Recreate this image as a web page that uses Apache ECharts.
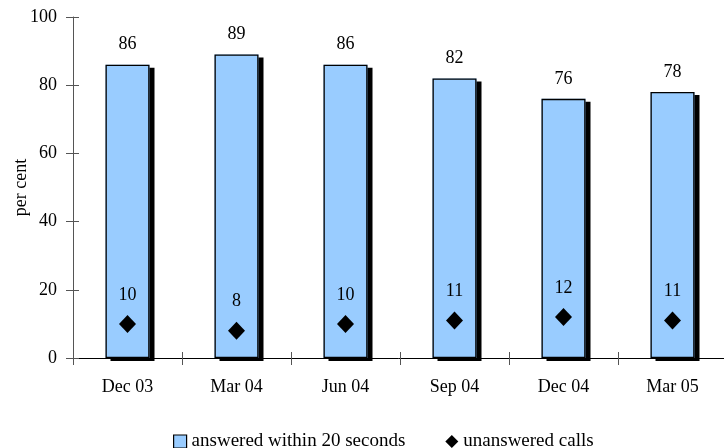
<!DOCTYPE html>
<html><head><meta charset="utf-8">
<script src="https://cdn.jsdelivr.net/npm/echarts@6/dist/echarts.min.js"></script>
<style>html,body{margin:0;padding:0;background:#fff}#c{width:724px;height:448px}</style>
</head><body><div id="c"></div>
<script>
const categories = ['Dec 03','Mar 04','Jun 04','Sep 04','Dec 04','Mar 05'];
const answered = [86, 89, 86, 82, 76, 78];
const unanswered = [10, 8, 10, 11, 12, 11];
const yTicks = [0, 20, 40, 60, 80, 100];

const F = 'Liberation Serif';
const chart = echarts.init(document.getElementById('c'), null, {renderer:'canvas'});
chart.setOption({
  animation: false,
  textStyle: {fontFamily: F},
  grid: {left: 73, right: -3, top: 17, bottom: 90, containLabel: false, outerBoundsMode: 'none'},
  legend: {
    top: 427, left: 168, itemGap: 40, itemWidth: 13, itemHeight: 13,
    textStyle: {fontFamily: F, fontSize: 19, color: '#000'},
    data: [
      {name: 'answered within 20 seconds', icon: 'rect', itemStyle: {color: '#99CCFF', borderColor: '#000', borderWidth: 1.2, shadowBlur: 0, shadowOffsetX: 0, shadowOffsetY: 0, shadowColor: 'transparent'}},
      {name: 'unanswered calls', icon: 'diamond', itemStyle: {color: '#000', opacity: 1}}
    ]
  },
  xAxis: [{
    type: 'category', data: categories,
    axisLine: {lineStyle: {color: '#000', width: 1}},
    axisTick: {show: true, alignWithLabel: false, length: 7, lineStyle: {color: '#555'}},
    axisLabel: {fontFamily: F, fontSize: 18, color: '#000', margin: 20}
  }, {
    type: 'category', data: categories, position: 'bottom',
    axisLine: {show: false},
    axisTick: {show: true, inside: true, length: 6, lineStyle: {color: '#555'}},
    axisLabel: {show: false}
  }],
  yAxis: [{
    type: 'value', min: 0, max: 100, interval: 20,
    name: 'per cent', nameLocation: 'middle', nameGap: 43, nameRotate: 90, nameMoveOverlap: false,
    nameTextStyle: {fontFamily: F, fontSize: 18, color: '#000'},
    axisLine: {show: true, lineStyle: {color: '#555'}},
    axisTick: {show: true, length: 7, lineStyle: {color: '#555'}},
    axisLabel: {fontFamily: F, fontSize: 18, color: '#000', margin: 16,
      formatter: v => yTicks.includes(v) ? String(v) : ''},
    splitLine: {show: false}
  }, {
    type: 'value', min: 0, max: 100, interval: 20, position: 'left', offset: 0,
    axisLine: {show: false},
    axisTick: {show: true, inside: true, length: 6, lineStyle: {color: '#555'}},
    axisLabel: {show: false}, splitLine: {show: false}
  }],
  series: [{
    name: 'answered within 20 seconds', type: 'bar', data: answered,
    barWidth: 44, z: 2,
    itemStyle: {color: '#99CCFF', borderWidth: 0,
      shadowColor: '#000', shadowBlur: 0, shadowOffsetX: 5, shadowOffsetY: 3},
    label: {show: true, position: 'top', distance: 11, fontFamily: F, fontSize: 18, color: '#000'}
  }, {
    name: 'outline', type: 'bar', data: answered,
    barWidth: 44, barGap: '-100%', z: 3, silent: true,
    itemStyle: {color: 'transparent', borderColor: '#000', borderWidth: 1.3}
  }, {
    name: 'unanswered calls', type: 'scatter', data: unanswered,
    symbol: 'diamond', symbolSize: [17, 18], z: 5,
    itemStyle: {color: '#000', opacity: 1},
    label: {show: true, position: 'top', distance: 11, fontFamily: F, fontSize: 18, color: '#000'}
  }]
});
</script></body></html>
